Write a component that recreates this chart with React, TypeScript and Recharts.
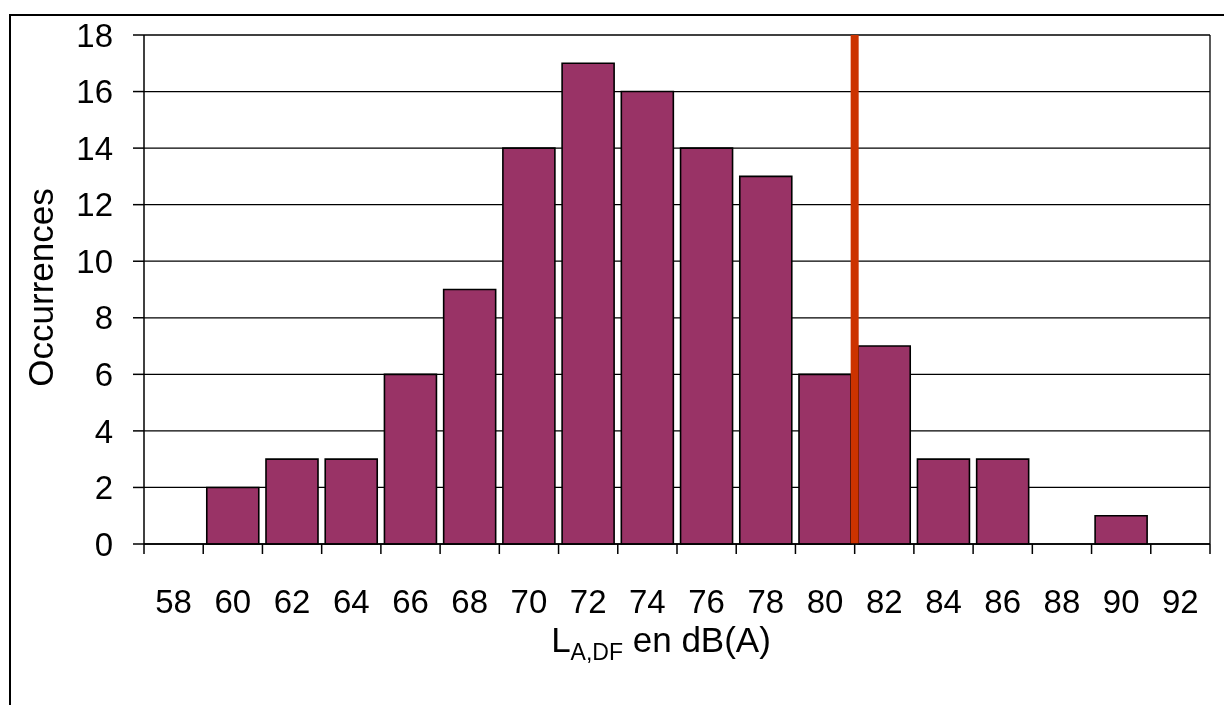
import { BarChart, Bar, XAxis, YAxis, CartesianGrid, ReferenceLine } from 'recharts';

const levels = ['58', '60', '62', '64', '66', '68', '70', '72', '74', '76', '78', '80', '82', '84', '86', '88', '90', '92'];
const occurrences = [0, 2, 3, 3, 6, 9, 14, 17, 16, 14, 13, 6, 7, 3, 3, 0, 1, 0];
const yTicks = [0, 2, 4, 6, 8, 10, 12, 14, 16, 18];
const thresholdLevel = '80';

const data = levels.map((level, i) => ({ level, count: occurrences[i] }));

const font = '"Liberation Sans", Arial, sans-serif';
const ink = '#000';

// Excel style: label in the middle of the class, tick marks on the class edges
function LevelTick(props: any) {
  const { x, y, payload, index, width } = props;
  const band = width / levels.length;
  const axisY = y - 46;
  const left = x - band / 2;
  return (
    <g>
      <line x1={left} y1={axisY} x2={left} y2={axisY + 10} stroke={ink} strokeWidth={1.5} />
      {index === levels.length - 1 && (
        <line x1={left + band} y1={axisY} x2={left + band} y2={axisY + 10} stroke={ink} strokeWidth={1.5} />
      )}
      <text x={x} y={y} dy="0.71em" textAnchor="middle" fill={ink} fontSize={33} fontFamily={font}>
        {payload.value}
      </text>
    </g>
  );
}

export default function App() {
  return (
    <div style={{ position: 'relative', width: 1216, height: 689, fontFamily: font }}>
      {/* outer frame, cut by the page on the right and bottom */}
      <div
        style={{
          position: 'fixed',
          left: 9,
          top: 14,
          width: 2000,
          height: 2000,
          borderTop: `2px solid ${ink}`,
          borderLeft: `2px solid ${ink}`,
          pointerEvents: 'none',
        }}
      />
      <BarChart
        width={1216}
        height={689}
        data={data}
        margin={{ top: 27, right: 14, left: 0, bottom: 23 }}
        barCategoryGap="6%"
      >
        <CartesianGrid
          xAxisId="cat"
          stroke={ink}
          strokeWidth={1.3}
          verticalCoordinatesGenerator={({ offset }: any) => [offset.left + offset.width]}
        />
        <XAxis
          xAxisId="cat"
          dataKey="level"
          height={130}
          stroke={ink}
          strokeWidth={1.5}
          tickLine={false}
          tickSize={0}
          tickMargin={46}
          interval={0}
          tick={<LevelTick />}
          label={{
            content: ({ viewBox }: any) => (
              <text
                x={viewBox.x + viewBox.width / 2 - 16}
                y={viewBox.y + 108}
                textAnchor="middle"
                fill={ink}
                fontSize={35}
                fontFamily={font}
              >
                L
                <tspan fontSize={23} dy={8}>A,DF</tspan>
                <tspan dy={-8}> en dB(A)</tspan>
              </text>
            ),
          }}
        />
        <YAxis
          domain={[0, 18]}
          ticks={yTicks}
          width={136}
          stroke={ink}
          strokeWidth={1.5}
          tickSize={11}
          tickMargin={20}
          tick={{ fill: ink, fontSize: 33, fontFamily: font }}
          label={{
            content: ({ viewBox }: any) => (
              <text
                x={32}
                y={viewBox.y + viewBox.height / 2 - 2}
                transform={`rotate(-90, 32, ${viewBox.y + viewBox.height / 2 - 2})`}
                textAnchor="middle"
                dominantBaseline="central"
                fill={ink}
                fontSize={35}
                fontFamily={font}
              >
                Occurrences
              </text>
            ),
          }}
        />
        <Bar
          xAxisId="cat"
          dataKey="count"
          fill="#993366"
          stroke={ink}
          strokeWidth={1.6}
          isAnimationActive={false}
        />
        <ReferenceLine
          xAxisId="cat"
          x={thresholdLevel}
          position="end"
          stroke="#CC3300"
          strokeWidth={8}
        />
      </BarChart>
    </div>
  );
}
